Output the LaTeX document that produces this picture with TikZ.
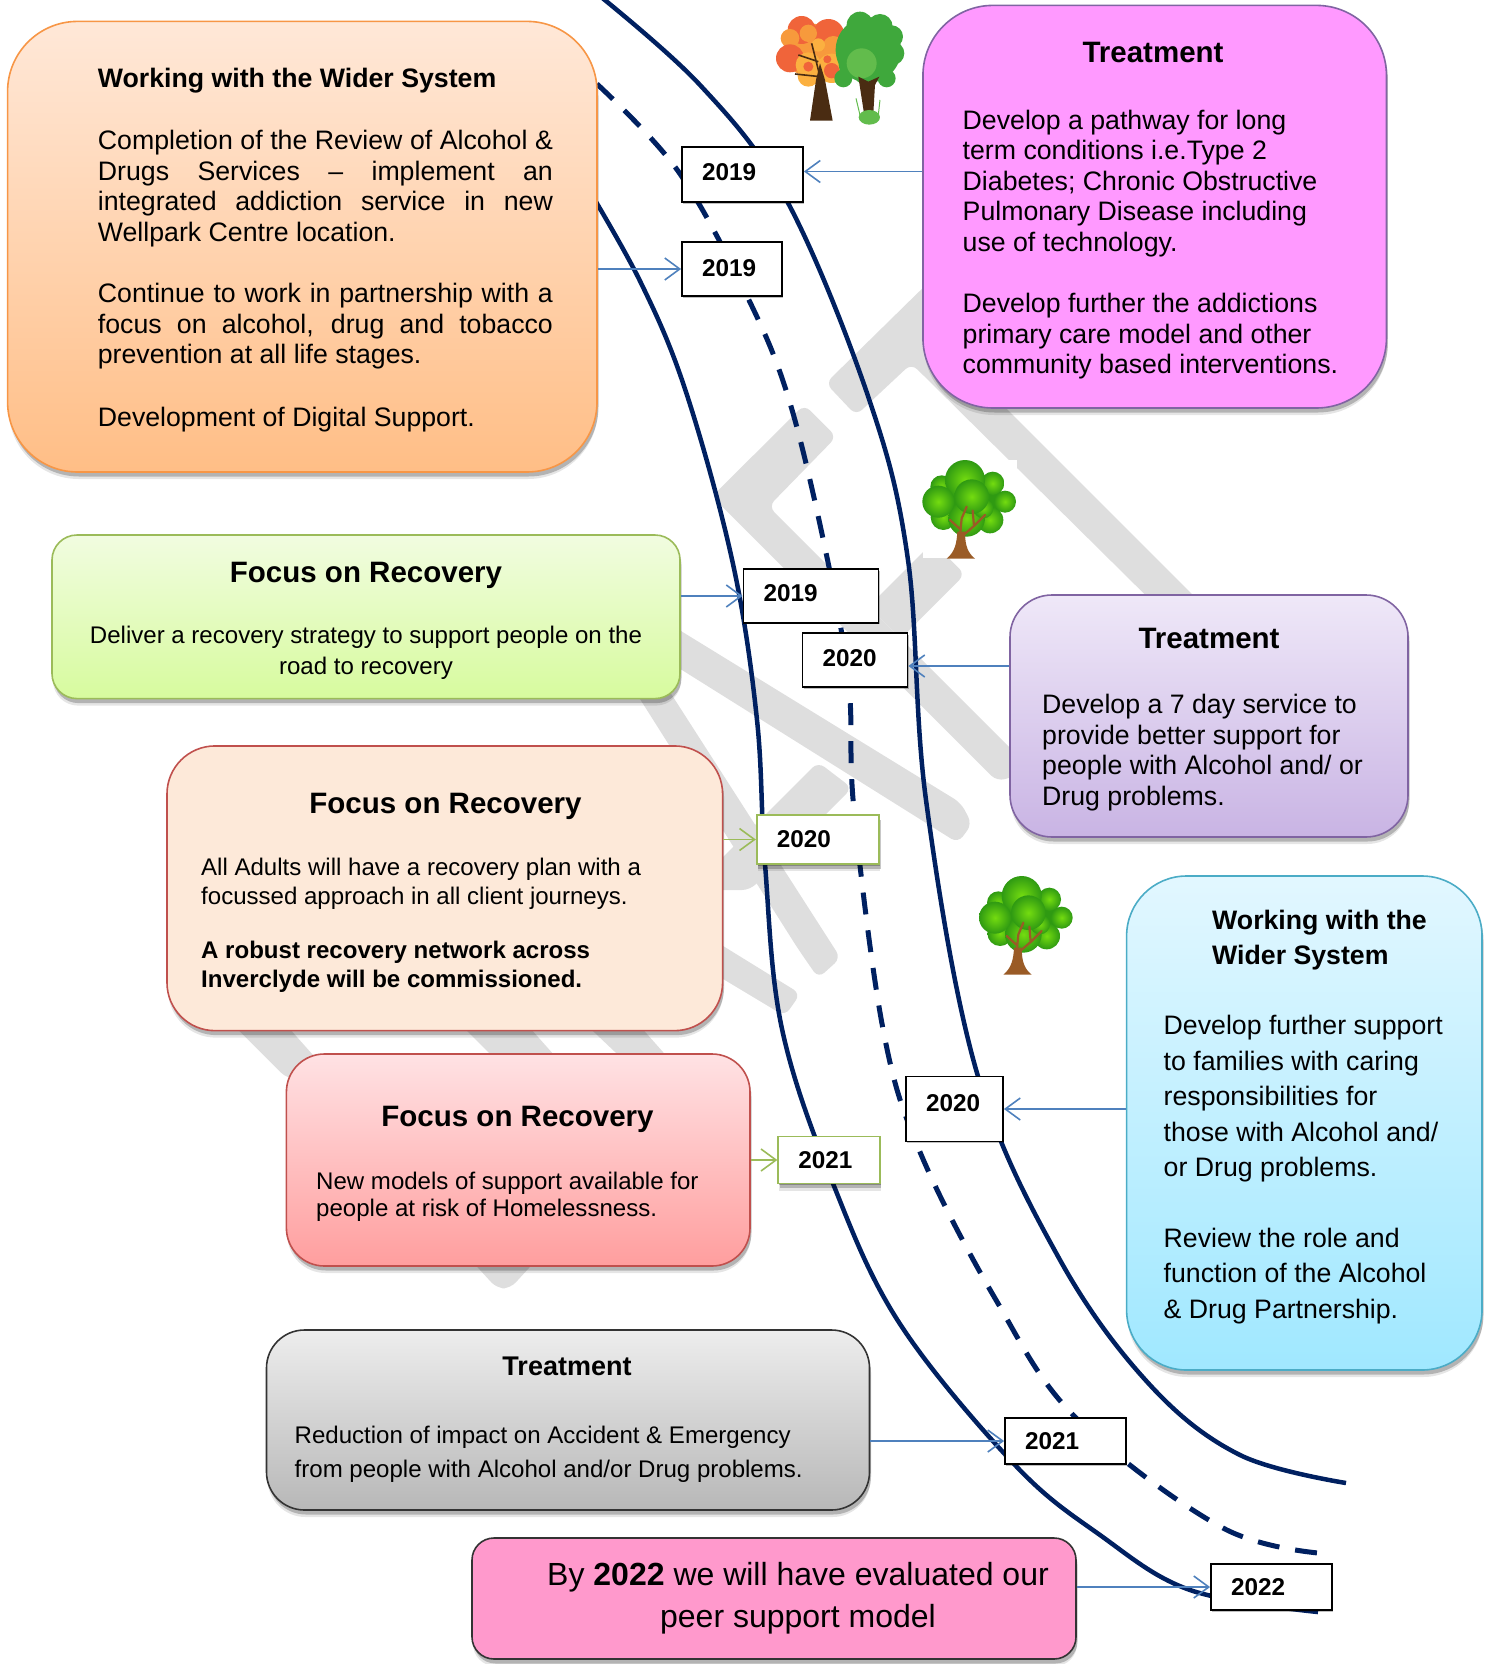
\documentclass[tikz,border=0pt]{standalone}
\usepackage{fontspec}
\setmainfont{Liberation Sans}
\usetikzlibrary{shadows,arrows.meta,positioning}
\definecolor{navy}{HTML}{002060}
\definecolor{wm}{HTML}{DEDEDE}
\definecolor{linkblue}{HTML}{4F81BD}
\definecolor{linkgreen}{HTML}{9BBB59}
\definecolor{bordviolet}{HTML}{8064A2}
\definecolor{bordred}{HTML}{C0504D}
\definecolor{bordorange}{HTML}{F79646}
\definecolor{bordcyan}{HTML}{4BACC6}
\definecolor{bordgrey}{HTML}{333333}
\definecolor{leaflight}{HTML}{74DC10}
\definecolor{leafdark}{HTML}{2F9A12}
\definecolor{bark}{HTML}{9A5B26}
\definecolor{autred}{HTML}{F0643A}
\definecolor{autorange}{HTML}{F79A3C}
\definecolor{autyellow}{HTML}{FBB040}
\definecolor{sumdark}{HTML}{3FA83C}
\definecolor{sumlight}{HTML}{62BC4C}
\definecolor{darkbark}{HTML}{4A2C12}
\tikzset{
  softshadow/.style={drop shadow={shadow xshift=1pt,shadow yshift=-7pt,opacity=.10,fill=black},drop shadow={shadow xshift=1.5pt,shadow yshift=-4.5pt,opacity=.22,fill=black}},
  tinyshadow/.style={drop shadow={shadow xshift=1.2pt,shadow yshift=-1.5pt,opacity=.25,fill=black}},
  bigbox/.style={rounded corners=#1,draw,line width=1.6pt,anchor=center,softshadow,inner sep=0pt},
  yearbox/.style={draw=black,line width=1.8pt,fill=white,inner ysep=0pt,inner xsep=20pt,align=left,font=\fontsize{24.3}{28}\selectfont\bfseries,tinyshadow},
  greenyear/.style={yearbox,draw=linkgreen,softshadow},
  body/.style={inner sep=0pt,align=left,anchor=base west,font=\fontsize{26.7}{30.4}\selectfont},
  smallbody/.style={body,font=\fontsize{24.05}{#1}\selectfont},
  head/.style={inner sep=0pt,anchor=base,font=\fontsize{29.5}{32}\selectfont\bfseries},
  road/.style={draw=navy,line width=4.5pt},
  link/.style={draw=linkblue,line width=1.6pt,-{Straight Barb[length=15pt,width=22pt,line width=1.6pt]}},
  glink/.style={link,draw=linkgreen},
  band/.style={fill=wm,rounded corners=8pt},
}
\newcommand{\greentree}[2]{%
\begin{scope}[shift={(#1,#2)},x=0.3333pt,y=-0.3333pt]
  \fill[leafdark] (200,180) ellipse[x radius=105,y radius=85];
  \foreach \cx/\cy/\r in {130/232/38,270/240/40,200/235/55,125/140/34,278/130/35,315/185/33,195/120/60,115/185/48,250/205/30,215/170/52}{
    \shade[inner color=leaflight,outer color=leafdark] (\cx,\cy) circle[radius=\r];}
  \fill[bark] (140,356) .. controls (165,335) and (170,310) .. (172,275) -- (195,275) .. controls (195,320) and (205,340) .. (225,356) -- cycle;
  \draw[bark,line width=2.2pt,line cap=round] (180,285) -- (185,235) -- (200,200) (183,270) -- (150,240) (193,283) -- (222,258) -- (255,225) (222,258) -- (218,212);
\end{scope}}
\begin{document}
\begin{tikzpicture}[x=1pt,y=-1pt]
\useasboundingbox (0,0) rectangle (1487,1664);
% watermark
\begin{scope}[shift={(640,260)},x=0.35714pt,y=-0.35714pt]
  \fill[band] (520,345) -- (790,80) -- (1000,-100) -- (1000,390) -- (1700,1090) -- (1700,1220) -- (760,290) -- (605,435) -- cycle;
  \fill[band] (460,405) -- (550,495) -- (360,690) -- (1100,1430) -- (1000,1460) -- (202,662) -- cycle;
  \fill[band] (640,970) -- (820,790) -- (910,880) -- (730,1060) -- cycle;
\end{scope}
\fill[band] (650,612) -- (961,803) -- (972,824) -- (958,843) -- (650,650) -- cycle;
\fill[band] (818,762) -- (690,890) -- (750,890) -- (852,788) -- cycle;
\begin{scope}[shift={(200,650)},x=0.44643pt,y=-0.44643pt]
  \fill[band] (1000,12) -- (1435,690) -- (1385,735) -- (1340,670) -- (930,22) -- cycle;
  \fill[band] (1000,557) -- (1345,770) -- (1310,820) -- (1000,634) -- cycle;
  \fill[band] (60,825) -- (195,960) -- (300,960) -- (180,825) -- cycle;
  \fill[band] (570,825) -- (660,915) -- (800,915) -- (720,825) -- cycle;
  \fill[band] (850,825) -- (945,915) -- (1050,915) -- (970,825) -- cycle;
  \fill[band] (610,1370) -- (665,1430) -- (695,1430) -- (750,1370) -- cycle;
\end{scope}
\fill[white] (923,460) rectangle (1017,558);
% road
\draw[road] plot[smooth,tension=.6] coordinates {(590,-12) (700,85) (787,201) (869,399) (908,560) (926,800) (977,1073) (1060,1260) (1150,1385) (1240,1455) (1346,1483)};
\draw[road] plot[smooth,tension=.6] coordinates {(580,175) (640,281) (686,392) (733,564) (757,720) (765,864) (782,1029) (834,1186) (900,1324) (1015,1465) (1100,1535) (1190,1590) (1318,1612)};
\draw[road,line width=5pt,dash pattern=on 22pt off 16pt] plot[smooth,tension=.6] coordinates {(597,84) (678,171) (747,296) (790,403) (829,567) (849,687) (854,810) (883,1029) (920,1152) (996,1300) (1076,1418) (1223,1528) (1330,1554)};
% trees
\begin{scope}[shift={(740,0)},x=0.3333pt,y=-0.3333pt]
  \fill[autorange] (210,150) circle[radius=80];
  \foreach \cx/\cy/\r/\c in {205/228/32/autyellow,185/90/42/autred,265/105/48/autred,150/115/28/autorange,150/175/42/autred,205/100/26/autorange,280/140/32/autorange,205/195/38/autyellow,275/205/44/autyellow,235/135/20/autyellow}{
    \fill[\c] (\cx,\cy) circle[radius=\r];}
  \foreach \cx/\cy/\r in {205/200/15,275/212/23,262/178/12}{\fill[autred] (\cx,\cy) circle[radius=\r];}
  \fill[sumdark] (385,150) circle[radius=98];
  \foreach \cx/\cy/\r in {360/75/40,420/80/38,455/110/34,340/125/35,458/160/35,330/195/34,440/235/27,310/235/27,380/215/40}{
    \fill[sumdark] (\cx,\cy) circle[radius=\r];}
  \fill[sumlight] (365,190) circle[radius=45];
  \fill[darkbark] (210,362) -- (278,362) -- (255,240) -- (240,190) -- (228,240) -- cycle;
  \draw[darkbark,line width=1.6pt] (240,230) -- (215,130) (235,185) -- (175,165) (240,230) -- (165,222);
  \fill[darkbark] (372,340) -- (400,340) -- (405,255) -- (418,230) -- (385,245) -- (355,230) -- cycle;
  \fill[sumlight] (388,352) ellipse[x radius=32,y radius=22];
  \draw[sumlight,line width=1pt] (360,345) -- (348,295) (415,345) -- (420,300);
\end{scope}
\greentree{900}{440}
\greentree{956.7}{856}
% year boxes
\node[yearbox,minimum width=121pt,minimum height=55pt,text width=81pt] (y1) at (742.5,174.5) {\raisebox{4pt}{2019}};
\node[yearbox,minimum width=100pt,minimum height=54pt,text width=60pt] (y2) at (732,269) {\raisebox{1pt}{2019}};
\node[yearbox,minimum width=135pt,minimum height=53.5pt,text width=95pt] (y3) at (811,596) {\raisebox{6pt}{2019}};
\node[yearbox,minimum width=105pt,minimum height=54pt,text width=65pt] (y4) at (855,660) {\raisebox{3pt}{2020}};
\node[greenyear,minimum width=122.5pt,minimum height=49pt,text width=82.5pt] (y5) at (818,839.5) {2020};
\node[greenyear,minimum width=101.5pt,minimum height=47pt,text width=61.5pt] (y6) at (829,1160) {\raisebox{-1pt}{2021}};
\node[yearbox,minimum width=97pt,minimum height=65pt,text width=57pt] (y7) at (954.5,1109) {\raisebox{12pt}{2020}};
\node[yearbox,minimum width=121pt,minimum height=46pt,text width=81pt] (y8) at (1065.5,1441) {\raisebox{-2pt}{2021}};
\node[yearbox,minimum width=121pt,minimum height=46pt,text width=81pt] (y9) at (1271.5,1587) {\raisebox{-1pt}{2022}};
% big boxes
\node[bigbox=70pt,draw=bordorange,top color={rgb,255:red,255;green,232;blue,216},bottom color={rgb,255:red,255;green,190;blue,134},minimum width=589.4pt,minimum height=450.6pt] (orangebox) at (302.3,246.7) {};
\node[bigbox=70pt,draw=bordviolet,fill={rgb,255:red,255;green,153;blue,255},minimum width=463.5pt,minimum height=402.6pt] (pinkbox) at (1154.7,206.7) {};
\node[bigbox=25pt,draw=linkgreen,top color={rgb,255:red,241;green,252;blue,224},bottom color={rgb,255:red,215;green,251;blue,158},minimum width=628pt,minimum height=163.6pt] (greenbox) at (366,616.8) {};
\node[bigbox=42pt,draw=bordviolet,top color={rgb,255:red,239;green,232;blue,248},bottom color={rgb,255:red,201;green,180;blue,228},minimum width=398pt,minimum height=242pt] (purplebox) at (1209,716) {};
\node[bigbox=48pt,draw=bordred,fill={rgb,255:red,253;green,233;blue,217},minimum width=555.6pt,minimum height=284.7pt] (peachbox) at (444.8,888.3) {};
\node[bigbox=38pt,draw=bordred,top color={rgb,255:red,255;green,226;blue,228},bottom color={rgb,255:red,255;green,158;blue,158},minimum width=463.6pt,minimum height=212pt] (redbox) at (518.2,1160) {};
\node[bigbox=60pt,draw=bordcyan,top color={rgb,255:red,226;green,247;blue,255},bottom color={rgb,255:red,160;green,232;blue,255},minimum width=355.4pt,minimum height=494pt] (cyanbox) at (1304.3,1123) {};
\node[bigbox=38pt,draw=bordgrey,top color=black!7,bottom color=black!28,minimum width=603pt,minimum height=180pt] (greybox) at (568,1420) {};
\node[bigbox=22pt,draw=bordgrey,fill={rgb,255:red,255;green,153;blue,204},minimum width=604pt,minimum height=121pt] (magentabox) at (774,1598.5) {};
% connectors
\draw[link] ([yshift=3pt]y1.east -| pinkbox.west) -- ([yshift=3pt]y1.east);
\draw[link] (orangebox.east |- y2.west) -- (y2.west);
\draw[link] (greenbox.east |- y3.west) -- (y3.west);
\draw[link] ([yshift=-6pt]y4.east -| purplebox.west) -- ([yshift=-6pt]y4.east);
\draw[glink] (peachbox.east |- y5.west) -- (y5.west);
\draw[glink] (redbox.east |- y6.west) -- (y6.west);
\draw[link] (y7.east -| cyanbox.west) -- (y7.east);
\draw[link] (greybox.east |- y8.west) -- (y8.west);
\draw[link] (magentabox.east |- y9.west) -- (y9.west);
% texts
\node[head,anchor=base west,font=\fontsize{26.7}{32}\selectfont\bfseries] (t1) at (97.7,88) {Working with the Wider System};
\node[body] (t2) at (97.7,241) {\makebox[455pt][s]{Completion of the Review of Alcohol \&}\\\makebox[455pt][s]{Drugs Services – implement an}\\\makebox[455pt][s]{integrated addiction service in new}\\Wellpark Centre location.};
\node[body] (t3) at (97.7,363.5) {\makebox[455pt][s]{Continue to work in partnership with a}\\\makebox[455pt][s]{focus on alcohol, drug and tobacco}\\prevention at all life stages.};
\node[body] (t4) at (97.7,426) {Development of Digital Support.};
\node[head] (t5) at (1153,63) {Treatment};
\node[body] (t6) at (962.5,251) {Develop a pathway for long\\term conditions i.e.Type 2\\Diabetes; Chronic Obstructive\\Pulmonary Disease including\\use of technology.};
\node[body] (t7) at (962.5,373.5) {Develop further the addictions\\primary care model and other\\community based interventions.};
\node[head] (t8) at (366,582) {Focus on Recovery};
\node[smallbody=31,align=center,anchor=base] (t9) at (366,674) {Deliver a recovery strategy to support people on the\\road to recovery};
\node[head] (t10) at (1209,648) {Treatment};
\node[body] (t11) at (1042,805) {Develop a 7 day service to\\provide better support for\\people with Alcohol and/ or\\Drug problems.};
\node[head] (t12) at (445.5,813) {Focus on Recovery};
\node[smallbody=28.7] (t13) at (201,904) {All Adults will have a recovery plan with a\\focussed approach in all client journeys.};
\node[smallbody=28.7,font=\fontsize{24.05}{28.7}\selectfont\bfseries] (t14) at (201,987) {A robust recovery network across\\Inverclyde will be commissioned.};
\node[head] (t15) at (517.5,1126) {Focus on Recovery};
\node[smallbody=27] (t16) at (316,1216) {New models of support available for\\people at risk of Homelessness.};
\node[head,anchor=base west,align=left,font=\fontsize{26.7}{35}\selectfont\bfseries] (t17) at (1212,964) {Working with the\\Wider System};
\node[body,font=\fontsize{26.7}{35.4}\selectfont] (t18) at (1163.5,1176.5) {Develop further support\\to families with caring\\responsibilities for\\those with Alcohol and/\\or Drug problems.};
\node[body,font=\fontsize{26.7}{35.4}\selectfont] (t19) at (1163.5,1318) {Review the role and\\function of the Alcohol\\\& Drug Partnership.};
\node[head,font=\fontsize{27}{30}\selectfont\bfseries] (t20) at (567,1375) {Treatment};
\node[smallbody=33.5] (t21) at (294.5,1477) {Reduction of impact on Accident \& Emergency\\from people with Alcohol and/or Drug problems.};
\node[inner sep=0pt,align=center,anchor=base,font=\fontsize{32}{42.5}\selectfont] (t22) at (798,1627.5) {By \textbf{2022} we will have evaluated our\\peer support model};
\end{tikzpicture}
\end{document}
